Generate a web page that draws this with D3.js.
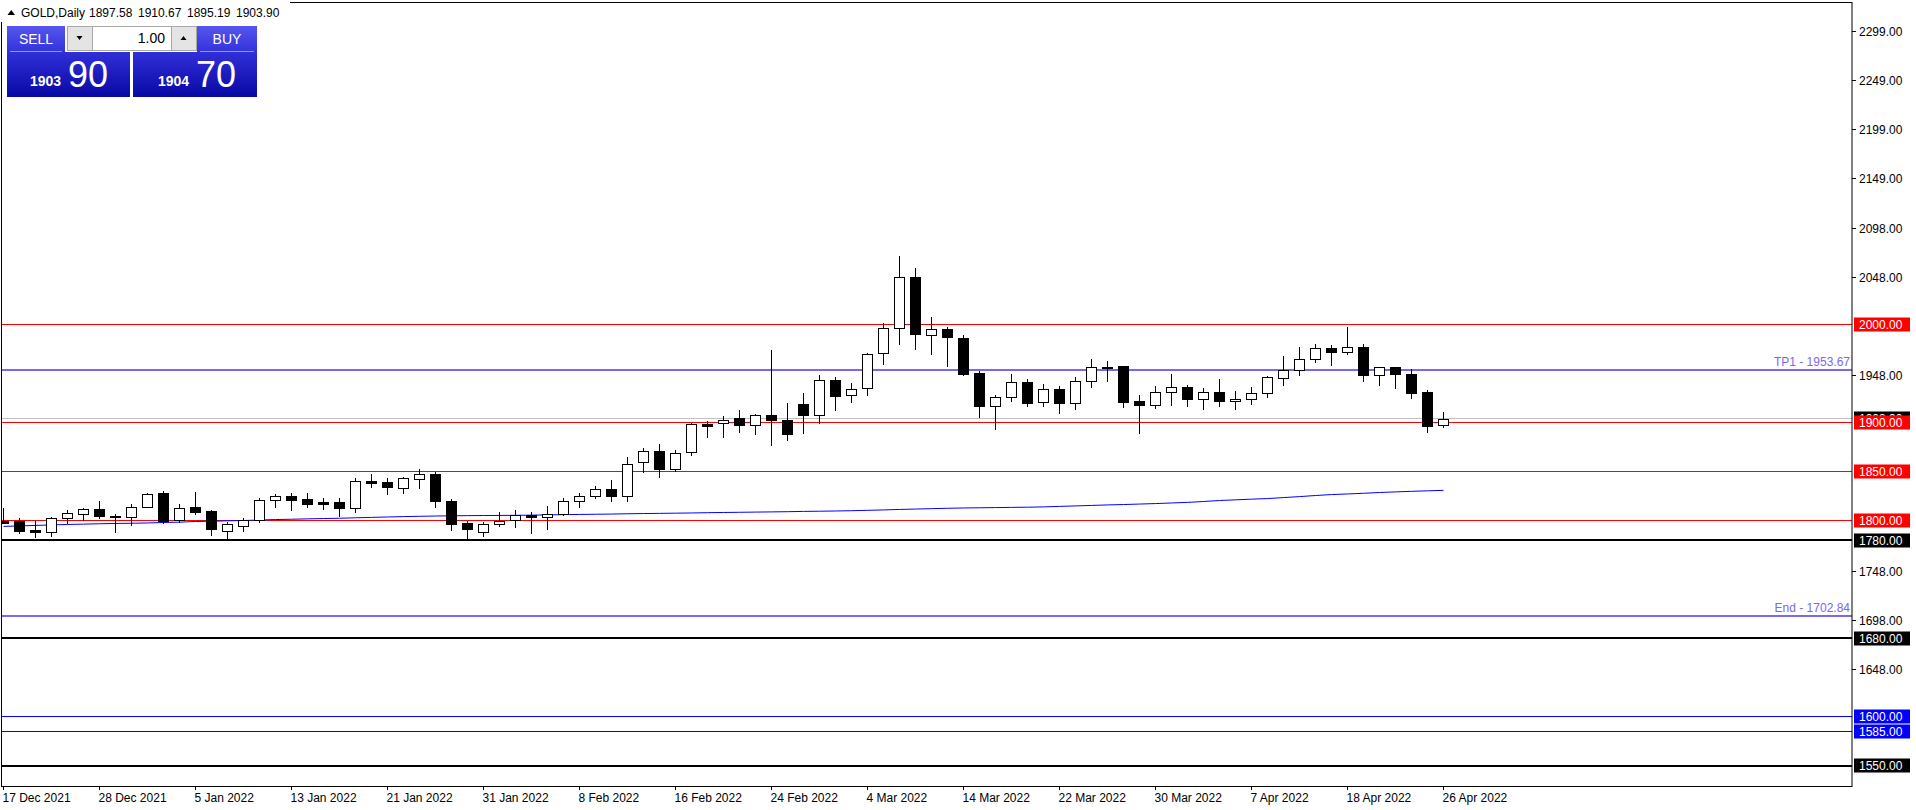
<!DOCTYPE html>
<html>
<head>
<meta charset="utf-8">
<script src="https://cdn.jsdelivr.net/npm/d3@7"></script>
<style>
  body { margin: 0; background: #fff; }
  text { font-family: "Liberation Sans", Arial, sans-serif; }
</style>
</head>
<body>
<div id="chart"></div>
<script>
// window and plot frame
const width = 1916;
const height = 810;
const plotLeft = 2, plotTop = 2, plotRight = 1852, plotBottom = 786;

// daily bars
const dates = [
  "2021-12-17", "2021-12-20", "2021-12-21", "2021-12-22", "2021-12-23", "2021-12-27", "2021-12-28", "2021-12-29", "2021-12-30", "2021-12-31",
  "2022-01-03", "2022-01-04", "2022-01-05", "2022-01-06", "2022-01-07", "2022-01-10", "2022-01-11", "2022-01-12", "2022-01-13", "2022-01-14",
  "2022-01-17", "2022-01-18", "2022-01-19", "2022-01-20", "2022-01-21", "2022-01-24", "2022-01-25", "2022-01-26", "2022-01-27", "2022-01-28",
  "2022-01-31", "2022-02-01", "2022-02-02", "2022-02-03", "2022-02-04", "2022-02-07", "2022-02-08", "2022-02-09", "2022-02-10", "2022-02-11",
  "2022-02-14", "2022-02-15", "2022-02-16", "2022-02-17", "2022-02-18", "2022-02-21", "2022-02-22", "2022-02-23", "2022-02-24", "2022-02-25",
  "2022-02-28", "2022-03-01", "2022-03-02", "2022-03-03", "2022-03-04", "2022-03-07", "2022-03-08", "2022-03-09", "2022-03-10", "2022-03-11",
  "2022-03-14", "2022-03-15", "2022-03-16", "2022-03-17", "2022-03-18", "2022-03-21", "2022-03-22", "2022-03-23", "2022-03-24", "2022-03-25",
  "2022-03-28", "2022-03-29", "2022-03-30", "2022-03-31", "2022-04-01", "2022-04-04", "2022-04-05", "2022-04-06", "2022-04-07", "2022-04-08",
  "2022-04-11", "2022-04-12", "2022-04-13", "2022-04-14", "2022-04-18", "2022-04-19", "2022-04-20", "2022-04-21", "2022-04-22", "2022-04-25",
  "2022-04-26"
];

const open = [
  1800, 1799, 1790, 1788, 1803, 1807, 1811.5, 1805, 1804, 1814,
  1828.5, 1801, 1813.5, 1809.5, 1789.5, 1794, 1800.5, 1820.5, 1825.5, 1821.5,
  1818.5, 1818.5, 1813, 1840, 1839, 1833.5, 1842, 1847, 1819.5, 1797,
  1788, 1796.5, 1800.5, 1806, 1803.5, 1806.5, 1819.5, 1825.5, 1832.5, 1825.5,
  1860, 1870.5, 1852.5, 1869.5, 1898, 1899.5, 1905, 1897.5, 1908, 1902.5,
  1919, 1908, 1943.5, 1928, 1935.5, 1971, 1996.5, 2048.5, 1989.5, 1995.5,
  1986.5, 1951, 1917, 1926, 1941.5, 1921, 1934.5, 1919.5, 1942.5, 1956.5,
  1958, 1922, 1918, 1931.5, 1936.5, 1924, 1931.5, 1922, 1924, 1930.5,
  1945.5, 1954, 1965, 1976, 1972, 1977, 1948.5, 1957, 1949.5, 1931.5,
  1897.58
];

const high = [
  1813, 1803, 1799, 1804, 1810.5, 1813, 1820, 1807, 1817, 1828,
  1830.5, 1816.5, 1829, 1811, 1798, 1802.5, 1823, 1827.5, 1828, 1828.5,
  1823, 1822.5, 1843, 1847, 1843, 1844.5, 1853, 1849, 1822, 1799.5,
  1798.5, 1808.5, 1810.5, 1808.5, 1814.5, 1822.5, 1828, 1835, 1841, 1864.5,
  1874, 1878.5, 1871.5, 1899, 1902, 1907, 1913, 1909, 1973.5, 1920,
  1930, 1948.5, 1946.5, 1940.5, 1970.5, 2002, 2069.5, 2058, 2008, 1997.5,
  1989, 1953, 1928.5, 1949, 1944.5, 1939.5, 1937.5, 1946.5, 1965, 1963,
  1958, 1928.5, 1937.5, 1949, 1938.5, 1935.5, 1944, 1932.5, 1936.5, 1947,
  1968, 1977, 1980, 1979.5, 1997, 1980.5, 1957, 1957, 1955, 1933.5,
  1910.67
];

const low = [
  1797, 1787, 1783, 1784, 1797, 1801, 1803, 1788, 1795.5, 1813.5,
  1797.5, 1798, 1807, 1785, 1780, 1789.5, 1798, 1814, 1811, 1814,
  1812, 1805, 1809, 1834, 1827, 1828, 1833, 1814, 1790, 1780.5,
  1784, 1794.5, 1793.5, 1787, 1791.5, 1805.5, 1814, 1823, 1820, 1820,
  1850, 1844, 1850.5, 1867, 1885, 1885.5, 1890, 1888, 1877, 1882,
  1889, 1900, 1912.5, 1920.5, 1928, 1959.5, 1980, 1975, 1969.5, 1957.5,
  1948, 1905.5, 1893, 1921.5, 1916.5, 1916.5, 1909.5, 1913.5, 1936, 1942,
  1915.5, 1889, 1914.5, 1917.5, 1916.5, 1913.5, 1916.5, 1913.5, 1918.5, 1926,
  1938.5, 1948.5, 1961.5, 1958.5, 1970, 1942.5, 1938.5, 1935, 1925, 1890.5,
  1895.19
];

const close = [
  1797.5, 1789, 1788, 1803, 1808, 1811.5, 1805, 1804, 1814, 1827.5,
  1799, 1813, 1809, 1791, 1796, 1801, 1820.5, 1825.5, 1821, 1817,
  1817, 1813, 1840, 1838.5, 1834.5, 1843, 1847, 1819.5, 1796.5, 1791,
  1796, 1799, 1806, 1804, 1807, 1819.5, 1825.5, 1832.5, 1825, 1858,
  1870.5, 1852.5, 1868.5, 1898, 1896, 1902.5, 1897.5, 1908, 1902.5, 1888,
  1908, 1943.5, 1927, 1934.5, 1970, 1996.5, 2048.5, 1990, 1995.5, 1987,
  1949, 1916.5, 1926, 1941.5, 1919.5, 1934, 1919.5, 1942.5, 1956.5, 1956,
  1920.5, 1917.5, 1931.5, 1936.5, 1924, 1931.5, 1921.5, 1924, 1930, 1946.5,
  1954, 1965, 1976, 1972, 1977, 1948.5, 1957, 1949.5, 1930.5, 1896.5,
  1903.90
];

// slow moving average
const ma = [
  1794, 1794.5, 1795, 1795.5, 1796, 1796.3, 1796.7, 1797, 1797.2, 1797.5,
  1798, 1798.3, 1799, 1799.3, 1799.7, 1800, 1800.5, 1801, 1801.3, 1801.7,
  1802, 1802.3, 1802.8, 1803.2, 1803.6, 1804, 1804.3, 1804.6, 1804.8, 1805,
  1805.1, 1805.2, 1805.3, 1805.5, 1805.7, 1806, 1806.2, 1806.4, 1806.6, 1806.9,
  1807.1, 1807.3, 1807.5, 1807.7, 1808, 1808.2, 1808.4, 1808.6, 1808.8, 1809,
  1809.3, 1809.5, 1809.7, 1810, 1810.4, 1810.8, 1811.3, 1811.7, 1812.1, 1812.5,
  1812.8, 1813, 1813.2, 1813.4, 1813.6, 1813.9, 1814.4, 1814.9, 1815.4, 1815.9,
  1816.3, 1816.8, 1817.3, 1817.9, 1818.5, 1819.4, 1820.4, 1821.1, 1821.8, 1822.4,
  1823.4, 1824.4, 1825.5, 1826.5, 1827.1, 1827.8, 1828.6, 1829.2, 1829.8, 1830.3,
  1830.8
];

// axis ticks
const priceTicks = [2299, 2249, 2199, 2149, 2098, 2048, 1948, 1748, 1698, 1648];
const dateTicks = [
  "2021-12-17", "2021-12-28", "2022-01-05", "2022-01-13", "2022-01-21", "2022-01-31",
  "2022-02-08", "2022-02-16", "2022-02-24", "2022-03-04", "2022-03-14", "2022-03-22",
  "2022-03-30", "2022-04-07", "2022-04-18", "2022-04-26"
];

// horizontal levels
const redLevels = [2000, 1900, 1850, 1800];
const blackLevels = [1780, 1680, 1550];
const blueLevels = [1600, 1585];
const targetNames = ["TP1", "End"];
const targetValues = [1953.67, 1702.84];

// quote
const symbol = "GOLD,Daily";
const bid = 1903.90;
const ask = 1904.70;
const lots = "1.00";

const svg = d3.select("#chart")
    .append("svg").attr("width", width).attr("height", height);

svg.append("rect")
    .attr("width", width).attr("height", height)
    .attr("fill", "white");

const x = d3.scalePoint()
    .domain(dates)
    .range([3.5, 1443.5]);

const y = d3.scaleLinear()
    .domain([1529.1, 2329.1])
    .range([plotBottom, plotTop]);

const crisp = v => Math.floor(y(v)) + 0.5;

svg.append("defs").append("clipPath").attr("id", "plot")
    .append("rect")
    .attr("x", plotLeft).attr("y", plotTop)
    .attr("width", plotRight - plotLeft).attr("height", plotBottom - plotTop);

const plot = svg.append("g").attr("clip-path", "url(#plot)");

// bid line
plot.append("line")
    .attr("x1", plotLeft).attr("x2", plotRight)
    .attr("y1", crisp(bid)).attr("y2", crisp(bid))
    .attr("stroke", "#c0c0c0");

// red levels
plot.selectAll(".red").data(redLevels).join("line")
    .attr("x1", plotLeft).attr("x2", plotRight)
    .attr("y1", d => crisp(d)).attr("y2", d => crisp(d))
    .attr("stroke", "#ff0000");

// blue levels
plot.selectAll(".blue").data(blueLevels).join("line")
    .attr("x1", plotLeft).attr("x2", plotRight)
    .attr("y1", d => crisp(d)).attr("y2", d => crisp(d))
    .attr("stroke", "#0000ff");

// black levels
plot.selectAll(".black").data(blackLevels).join("line")
    .attr("x1", plotLeft).attr("x2", plotRight)
    .attr("y1", d => Math.round(y(d))).attr("y2", d => Math.round(y(d)))
    .attr("stroke", "#000")
    .attr("stroke-width", 2);

// target levels
plot.selectAll(".target").data(targetValues).join("line")
    .attr("x1", plotLeft).attr("x2", plotRight)
    .attr("y1", d => Math.round(y(d))).attr("y2", d => Math.round(y(d)))
    .attr("stroke", "#7b68ee")
    .attr("stroke-width", 2);

plot.selectAll(".targetText").data(targetValues).join("text")
    .attr("x", plotRight - 2)
    .attr("y", d => Math.round(y(d)) - 4)
    .attr("text-anchor", "end")
    .attr("font-size", 12)
    .attr("fill", "#7b68ee")
    .text((d, i) => targetNames[i] + " - " + d.toFixed(2));

// moving average
plot.append("path")
    .datum(ma)
    .attr("d", d3.line().x((d, i) => x(dates[i])).y(d => y(d)))
    .attr("fill", "none")
    .attr("stroke", "#0000ff");

// candles
const bars = dates.map((d, i) => ({ d, o: open[i], h: high[i], l: low[i], c: close[i] }));

plot.selectAll(".wick").data(bars).join("line")
    .attr("x1", b => x(b.d)).attr("x2", b => x(b.d))
    .attr("y1", b => Math.round(y(b.h))).attr("y2", b => Math.round(y(b.l)) + 1)
    .attr("stroke", "#000");

plot.selectAll(".body").data(bars).join("rect")
    .attr("x", b => x(b.d) - 5)
    .attr("y", b => Math.round(y(Math.max(b.o, b.c))) + 0.5)
    .attr("width", 10)
    .attr("height", b => Math.max(0, Math.round(y(Math.min(b.o, b.c))) - Math.round(y(Math.max(b.o, b.c)))))
    .attr("fill", b => b.c >= b.o ? "#fff" : "#000")
    .attr("stroke", "#000");

// frame
svg.append("rect")
    .attr("x", plotLeft - 0.5).attr("y", plotTop + 0.5)
    .attr("width", plotRight - plotLeft + 0.5).attr("height", plotBottom - plotTop)
    .attr("fill", "none")
    .attr("stroke", "#000");

// price axis
svg.selectAll(".ptick").data(priceTicks).join("line")
    .attr("x1", plotRight).attr("x2", plotRight + 4)
    .attr("y1", d => crisp(d)).attr("y2", d => crisp(d))
    .attr("stroke", "#000");

svg.selectAll(".plabel").data(priceTicks).join("text")
    .attr("x", 1859)
    .attr("y", d => y(d))
    .attr("dy", "0.36em")
    .attr("font-size", 12)
    .attr("fill", "#000")
    .text(d => d.toFixed(2));

// date axis
const fmt = d3.timeFormat("%-d %b %Y");
const parse = d3.timeParse("%Y-%m-%d");

svg.selectAll(".dtick").data(dateTicks).join("line")
    .attr("x1", d => x(d)).attr("x2", d => x(d))
    .attr("y1", plotBottom).attr("y2", plotBottom + 4)
    .attr("stroke", "#000");

svg.selectAll(".dlabel").data(dateTicks).join("text")
    .attr("x", d => x(d) - 1)
    .attr("y", 802)
    .attr("font-size", 12)
    .attr("fill", "#000")
    .text(d => fmt(parse(d)));

// level tags on the price axis
function tag(value, fill) {
    const cy = Math.floor(y(value)) + 0.5;
    svg.append("rect")
        .attr("x", 1854).attr("y", cy - 7)
        .attr("width", 56).attr("height", 14)
        .attr("fill", fill);
    svg.append("text")
        .attr("x", 1859).attr("y", cy)
        .attr("dy", "0.36em")
        .attr("font-size", 12)
        .attr("fill", "#fff")
        .text(value.toFixed(2));
}

tag(bid, "#000");
redLevels.forEach(v => tag(v, "#ff0000"));
blackLevels.forEach(v => tag(v, "#000"));
blueLevels.forEach(v => tag(v, "#0000ff"));

// header
svg.append("rect")
    .attr("x", 0).attr("y", 0)
    .attr("width", 290).attr("height", 22)
    .attr("fill", "#fff");

svg.append("path")
    .attr("d", "M7.5,15 L15,15 L11.25,10 Z")
    .attr("fill", "#000");

svg.append("text")
    .attr("x", 21).attr("y", 17)
    .attr("font-size", 12)
    .text(symbol);

svg.selectAll(".ohlc").data([open[90], high[90], low[90], close[90]]).join("text")
    .attr("x", (d, i) => 89 + i * 49)
    .attr("y", 17)
    .attr("font-size", 12)
    .text(d => d.toFixed(2));

// one click trading panel
const defs = svg.select("defs");
const blockGrad = defs.append("linearGradient").attr("id", "blockGrad")
    .attr("x1", 0).attr("y1", 0).attr("x2", 0).attr("y2", 1);
blockGrad.append("stop").attr("offset", "0%").attr("stop-color", "#3030d8");
blockGrad.append("stop").attr("offset", "100%").attr("stop-color", "#0808a4");

const btnGrad = defs.append("linearGradient").attr("id", "btnGrad")
    .attr("x1", 0).attr("y1", 0).attr("x2", 0).attr("y2", 1);
btnGrad.append("stop").attr("offset", "0%").attr("stop-color", "#5656ee");
btnGrad.append("stop").attr("offset", "100%").attr("stop-color", "#3232dc");

// price blocks
svg.append("rect")
    .attr("x", 7).attr("y", 52).attr("width", 123).attr("height", 45)
    .attr("fill", "url(#blockGrad)");
svg.append("rect")
    .attr("x", 133).attr("y", 52).attr("width", 124).attr("height", 45)
    .attr("fill", "url(#blockGrad)");

// sell / buy buttons
svg.append("rect")
    .attr("x", 7).attr("y", 26).attr("width", 58).attr("height", 26)
    .attr("fill", "url(#btnGrad)");
svg.append("rect")
    .attr("x", 197).attr("y", 26).attr("width", 60).attr("height", 26)
    .attr("fill", "url(#btnGrad)");
svg.append("line")
    .attr("x1", 10).attr("x2", 62).attr("y1", 51.5).attr("y2", 51.5)
    .attr("stroke", "#9494f4");
svg.append("line")
    .attr("x1", 200).attr("x2", 254).attr("y1", 51.5).attr("y2", 51.5)
    .attr("stroke", "#9494f4");

svg.append("text")
    .attr("x", 36).attr("y", 44)
    .attr("text-anchor", "middle")
    .attr("font-size", 14)
    .attr("fill", "#fff")
    .text("SELL");
svg.append("text")
    .attr("x", 227).attr("y", 44)
    .attr("text-anchor", "middle")
    .attr("font-size", 14)
    .attr("fill", "#fff")
    .text("BUY");

// lot spinner
svg.append("rect")
    .attr("x", 67.5).attr("y", 26.5).attr("width", 129).attr("height", 24)
    .attr("fill", "#fff").attr("stroke", "#a8a8a8");
svg.append("rect")
    .attr("x", 67.5).attr("y", 26.5).attr("width", 25).attr("height", 24)
    .attr("fill", "#e4e4e4").attr("stroke", "#a8a8a8");
svg.append("rect")
    .attr("x", 171.5).attr("y", 26.5).attr("width", 25).attr("height", 24)
    .attr("fill", "#e4e4e4").attr("stroke", "#a8a8a8");
svg.append("path")
    .attr("d", "M76.5,36 L82.5,36 L79.5,40 Z").attr("fill", "#000");
svg.append("path")
    .attr("d", "M180.5,40 L186.5,40 L183.5,36 Z").attr("fill", "#000");
svg.append("text")
    .attr("x", 165).attr("y", 43)
    .attr("text-anchor", "end")
    .attr("font-size", 14)
    .text(lots);

// bid / ask digits
function quote(value, x0) {
    const s = value.toFixed(2);
    svg.append("text")
        .attr("x", x0).attr("y", 86)
        .attr("font-size", 14)
        .attr("font-weight", "bold")
        .attr("fill", "#fff")
        .text(s.slice(0, 4));
    svg.append("text")
        .attr("x", x0 + 38).attr("y", 87)
        .attr("font-size", 36)
        .attr("fill", "#fff")
        .text(s.slice(5));
}

quote(bid, 30);
quote(ask, 158);
</script>
</body>
</html>
